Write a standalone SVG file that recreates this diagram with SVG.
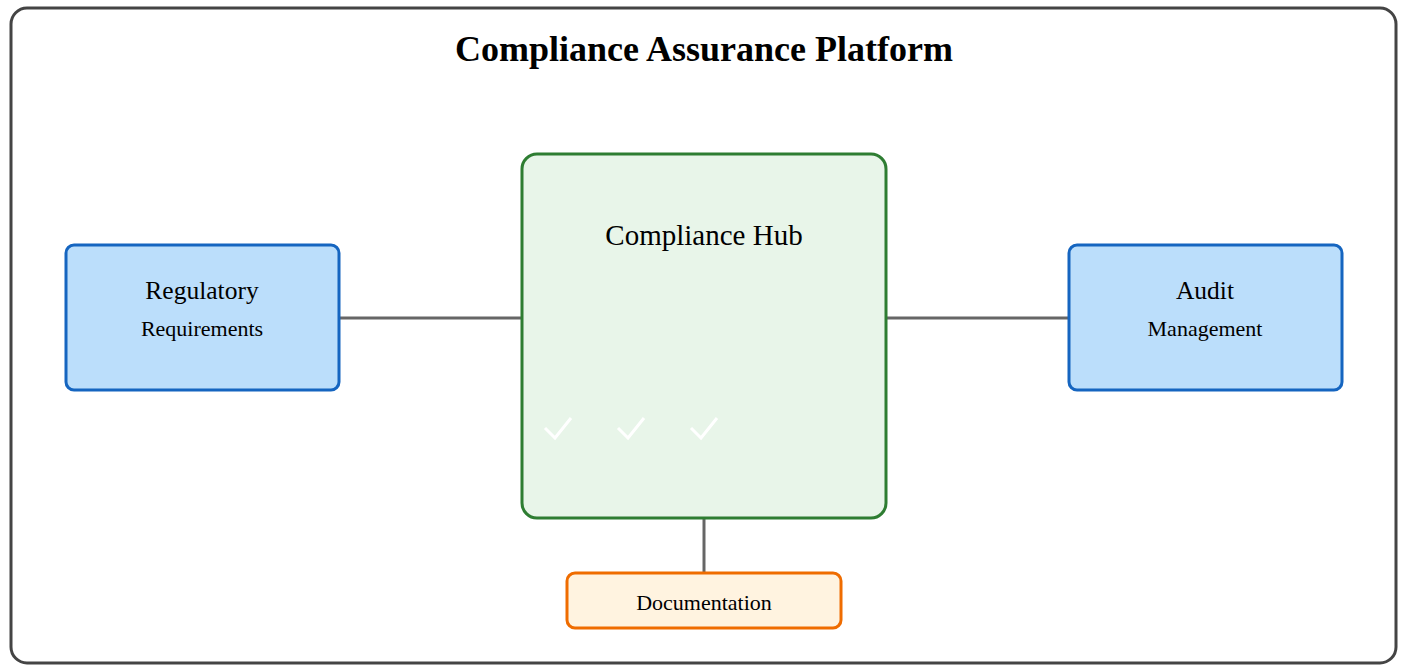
<svg xmlns="http://www.w3.org/2000/svg" width="1407" height="667" viewBox="0 0 1407 667">
<style>
text{font-family:"Liberation Serif","Times New Roman",serif;fill:#000;text-anchor:middle}
.title{font-size:36px;font-weight:bold}
.blue{fill:#bbdefb;stroke:#1565c0;stroke-width:3}
.conn{stroke:#666;stroke-width:3;fill:none}
.chk{stroke:#fff;stroke-width:3;fill:none}
</style>
<rect x="11" y="8" width="1385" height="655" rx="16" fill="#fff" stroke="#444" stroke-width="3"/>
<text class="title" x="704" y="61">Compliance Assurance Platform</text>
<g id="connectors">
<line class="conn" x1="339" y1="318" x2="522" y2="318"/>
<line class="conn" x1="886" y1="318" x2="1069" y2="318"/>
<line class="conn" x1="704" y1="518" x2="704" y2="573"/>
</g>
<g id="hub">
<rect x="522" y="154" width="364" height="364" rx="15" fill="#e8f5e9" stroke="#2e7d32" stroke-width="3"/>
<text x="704" y="245" font-size="29">Compliance Hub</text>
<path class="chk" d="M545,428 L555,438 L571,418"/>
<path class="chk" d="M618,428 L628,438 L644,418"/>
<path class="chk" d="M691,428 L701,438 L717,418"/>
</g>
<g id="regulatory">
<rect class="blue" x="66" y="245" width="273" height="145" rx="8"/>
<text x="202" y="299" font-size="25.5">Regulatory</text>
<text x="202" y="336" font-size="22">Requirements</text>
</g>
<g id="audit">
<rect class="blue" x="1069" y="245" width="273" height="145" rx="8"/>
<text x="1205" y="299" font-size="25.5">Audit</text>
<text x="1205" y="336" font-size="22">Management</text>
</g>
<g id="documentation">
<rect x="567" y="573" width="274" height="55" rx="8" fill="#fff3e0" stroke="#ef6c00" stroke-width="3"/>
<text x="704" y="610" font-size="22">Documentation</text>
</g>
</svg>
